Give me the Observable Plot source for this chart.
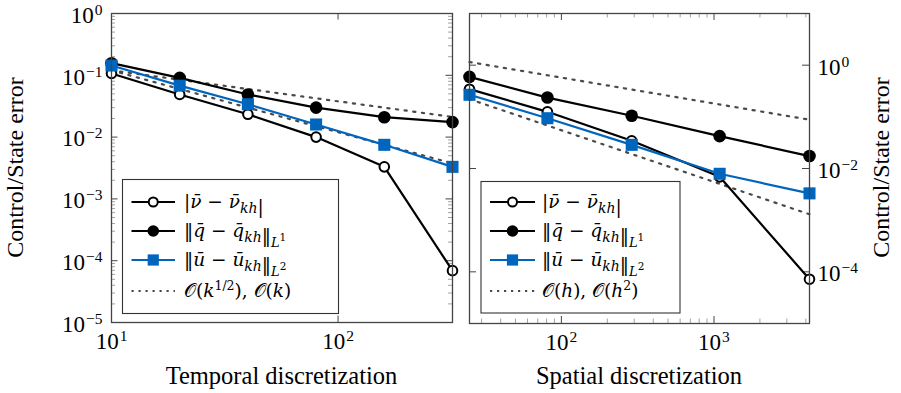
<!DOCTYPE html>
<html><head><meta charset="utf-8">
<script src="https://cdn.jsdelivr.net/npm/d3@7"></script>
<script src="https://cdn.jsdelivr.net/npm/@observablehq/plot@0.6"></script>
<style>
body{margin:0;background:#fff}
#wrap{position:relative;width:901px;height:393px;font-family:"Liberation Serif",serif}
#wrap svg{position:absolute;top:0;overflow:visible}
</style></head><body><div id="wrap"></div>
<script>
// ---- data: temporal discretization (left panel) ----
const kTemporal  = [10, 20, 40, 80, 160, 320];
const nuTemporal = [0.107, 0.049, 0.0234, 0.0100, 0.0033, 6.9e-5];
const qTemporal  = [0.157, 0.091, 0.049, 0.030, 0.021, 0.0175];
const uTemporal  = [0.144, 0.068, 0.034, 0.016, 0.0075, 0.0033];
const refTemporalX    = [10, 320];
const refTemporalHalf = [0.12, 0.0212];   // O(k^{1/2})
const refTemporalOne  = [0.12, 0.00375];  // O(k)

// ---- data: spatial discretization (right panel) ----
const nSpatial  = [25, 81, 289, 1089, 4225];
const nuSpatial = [0.343, 0.125, 0.0344, 0.0069, 7.2e-5];
const qSpatial  = [0.594, 0.236, 0.105, 0.0423, 0.0174];
const uSpatial  = [0.267, 0.094, 0.0287, 0.0079, 0.0033];
const refSpatialX  = [25, 4225];
const refSpatialH  = [1.15, 0.088];   // O(h)
const refSpatialH2 = [0.22, 0.0013];  // O(h^2)

// ---- ticks ----
const xTicksTemporal = [10, 100];
const yTicksTemporal = [1e-5, 1e-4, 1e-3, 1e-2, 1e-1, 1];
const xTicksSpatial  = [100, 1000];
const yTicksSpatial  = [1e-4, 1e-2, 1];
const minorMantissas = [2, 3, 4, 5, 6, 7, 8, 9];

// ---- text ----
const xTitleTemporal = "Temporal discretization";
const xTitleSpatial  = "Spatial discretization";
const yTitle = "Control/State error";
const I = s => `<tspan font-style="italic">${s}</tspan>`;
const SUB = s => `<tspan font-style="italic" font-size="14px" dy="4.5">${s}</tspan><tspan dy="-4.5"></tspan>`;
const NORMSUB = n => `<tspan font-style="italic" font-size="13px" dy="5">L</tspan><tspan font-size="10.5px" dy="-5.5">${n}</tspan>`;
const legendTemporal = [
  `|${I("ν̄")} − ${I("ν̄")}${SUB("kh")}|`,
  `‖${I("q̄")} − ${I("q̄")}${SUB("kh")}‖${NORMSUB(1)}`,
  `‖${I("ū")} − ${I("ū")}${SUB("kh")}‖${NORMSUB(2)}`,
  `𝒪(${I("k")}<tspan font-size="12.5px" dy="-7">1/2</tspan><tspan dy="7">), 𝒪(</tspan>${I("k")})`
];
const legendSpatial = [
  legendTemporal[0], legendTemporal[1], legendTemporal[2],
  `𝒪(${I("h")}), 𝒪(${I("h")}<tspan font-size="12.5px" dy="-7">2</tspan><tspan dy="7">)</tspan>`
];

const BLUE = "#0065bd", FRAME = "#444", MINOR = "#999", REFC = "#4a4a4a";
const LW = 2.2;

function table(xs, ys) { return xs.map((x, i) => ({x, y: ys[i]})); }
function minorTicks(lo, hi) {
  const out = [];
  for (let e = Math.floor(Math.log10(lo)); e <= Math.ceil(Math.log10(hi)); e++)
    for (const m of minorMantissas) { const v = m * 10 ** e; if (v > lo && v < hi) out.push(v); }
  return out;
}
const fmt = d => "10^" + Math.round(Math.log10(d));

function seriesMarks(xs, nu, q, u) {
  return [
    Plot.line(table(xs, nu), {x: "x", y: "y", stroke: "#000", strokeWidth: LW}),
    Plot.dot(table(xs, nu), {x: "x", y: "y", r: 4.8, stroke: "#000", strokeWidth: 2, fill: "#fff"}),
    Plot.line(table(xs, q), {x: "x", y: "y", stroke: "#000", strokeWidth: LW}),
    Plot.dot(table(xs, q), {x: "x", y: "y", r: 6.3, fill: "#000", stroke: null}),
    Plot.line(table(xs, u), {x: "x", y: "y", stroke: BLUE, strokeWidth: LW}),
    Plot.dot(table(xs, u), {x: "x", y: "y", r: 6.8, symbol: "square", fill: BLUE, stroke: null})
  ];
}
function refMarks(xs, a, b) {
  const o = {x: "x", y: "y", stroke: REFC, strokeWidth: 2.2, strokeDasharray: "2.2 6.5"};
  return [Plot.line(table(xs, a), o), Plot.line(table(xs, b), o)];
}

function supTicks(svg) {
  d3.select(svg).selectAll("g[aria-label$='tick label'] text").each(function () {
    const m = this.textContent.match(/^10\^(.+)$/);
    if (!m) return;
    this.textContent = "";
    const s = d3.select(this);
    s.append("tspan").text("10");
    s.append("tspan").attr("dx", "1").attr("dy", "-8").style("font-size", "15.5px").text(m[1].replace("-", "−"));
  });
}

function addLegend(svg, {bx, by, bw, bh, rows, l1, l2, tx, labels}) {
  const g = d3.select(svg).append("g");
  g.append("rect").attr("x", bx).attr("y", by).attr("width", bw).attr("height", bh)
    .attr("fill", "#fff").attr("stroke", "#333").attr("stroke-width", 1.1);
  const mx = (l1 + l2) / 2;
  rows.forEach((y, i) => {
    const stroke = i === 2 ? BLUE : i === 3 ? REFC : "#000";
    const line = g.append("line").attr("x1", l1).attr("x2", l2).attr("y1", y).attr("y2", y)
      .attr("stroke", stroke).attr("stroke-width", LW);
    if (i === 3) line.attr("stroke-dasharray", "2.2 4.8");
    if (i === 0) g.append("circle").attr("cx", mx).attr("cy", y).attr("r", 4.5).attr("fill", "#fff").attr("stroke", "#000").attr("stroke-width", 2);
    if (i === 1) g.append("circle").attr("cx", mx).attr("cy", y).attr("r", 5.8).attr("fill", "#000");
    if (i === 2) g.append("rect").attr("x", mx - 5.6).attr("y", y - 5.6).attr("width", 11.2).attr("height", 11.2).attr("fill", BLUE);
    g.append("text").attr("x", tx).attr("y", y + 6).attr("text-anchor", "start")
      .style("font-family", "DejaVu Serif").style("font-size", "18.5px").html(labels[i]);
  });
}

function addTitles(svg, {xt, xx, yx, yy}) {
  const s = d3.select(svg);
  s.append("text").attr("x", xx).attr("y", 384).attr("text-anchor", "middle").style("font-size", "24.5px").text(xt);
  s.append("text").attr("transform", `translate(${yx},${yy}) rotate(-90)`).attr("text-anchor", "middle").style("font-size", "24px").text(yTitle);
}

const wrap = document.getElementById("wrap");
const style = {fontFamily: "Liberation Serif", fontSize: "23px", background: "transparent", color: "#000"};

// ---------- left panel ----------
{
  const W = 460, H = 393, mL = 111, mR = 8, mT = 13, mB = 71;
  const fw = W - mL - mR, fh = H - mT - mB;
  const yMinor = minorTicks(1e-5, 1);
  const svg = Plot.plot({
    width: W, height: H, marginLeft: mL, marginRight: mR, marginTop: mT, marginBottom: mB,
    style,
    x: {type: "log", domain: [10, 320]},
    y: {type: "log", domain: [1e-5, 1]},
    marks: [
      Plot.tickY(yMinor, {y: d => d, insetRight: fw - 4, stroke: MINOR, strokeWidth: 0.9}),
      Plot.tickY(yMinor, {y: d => d, insetLeft: fw - 4, stroke: MINOR, strokeWidth: 0.9}),
      Plot.tickY(yTicksTemporal, {y: d => d, insetRight: fw - 6.5, stroke: FRAME}),
      Plot.tickY(yTicksTemporal, {y: d => d, insetLeft: fw - 6.5, stroke: FRAME}),
      Plot.tickX(xTicksTemporal, {x: d => d, insetTop: fh - 6.5, stroke: FRAME}),
      Plot.tickX(xTicksTemporal, {x: d => d, insetBottom: fh - 6.5, stroke: FRAME}),
      Plot.axisY(yTicksTemporal, {anchor: "left", tickSize: 0, tickPadding: 9, dy: 2, tickFormat: fmt, label: null}),
      Plot.axisX(xTicksTemporal, {anchor: "bottom", tickSize: 0, tickPadding: 10, tickFormat: fmt, label: null}),
      ...refMarks(refTemporalX, refTemporalHalf, refTemporalOne),
      ...seriesMarks(kTemporal, nuTemporal, qTemporal, uTemporal),
      Plot.frame({stroke: FRAME, strokeWidth: 1.3})
    ]
  });
  svg.style.left = "0px";
  wrap.appendChild(svg);
  supTicks(svg);
  addLegend(svg, {bx: 122.5, by: 179.5, bw: 216, bh: 134, rows: [202, 231, 260, 291], l1: 131.5, l2: 175, tx: 184, labels: legendTemporal});
  addTitles(svg, {xt: xTitleTemporal, xx: 281.5, yx: 23, yy: 167.5});
}

// ---------- right panel ----------
{
  const W = 446, H = 393, mL = 14, mR = 92, mT = 13, mB = 70;
  const fw = W - mL - mR, fh = H - mT - mB;
  const xMinor = minorTicks(25, 4225);
  const svg = Plot.plot({
    width: W, height: H, marginLeft: mL, marginRight: mR, marginTop: mT, marginBottom: mB,
    style,
    x: {type: "log", domain: [25, 4225]},
    y: {type: "log", domain: [1e-5, 10]},
    marks: [
      Plot.tickX(xMinor, {x: d => d, insetTop: fh - 4.5, stroke: MINOR, strokeWidth: 0.9}),
      Plot.tickX(xMinor, {x: d => d, insetBottom: fh - 4.5, stroke: MINOR, strokeWidth: 0.9}),
      Plot.tickX(xTicksSpatial, {x: d => d, insetTop: fh - 7, stroke: FRAME}),
      Plot.tickX(xTicksSpatial, {x: d => d, insetBottom: fh - 7, stroke: FRAME}),
      Plot.tickY(yTicksSpatial, {y: d => d, insetRight: fw - 7, stroke: FRAME}),
      Plot.tickY(yTicksSpatial, {y: d => d, insetLeft: fw - 7, stroke: FRAME}),
      Plot.axisY(yTicksSpatial, {anchor: "right", tickSize: 0, tickPadding: 8, dy: 2, tickFormat: fmt, label: null}),
      Plot.axisX(xTicksSpatial, {anchor: "bottom", tickSize: 0, tickPadding: 10, tickFormat: fmt, label: null}),
      ...refMarks(refSpatialX, refSpatialH, refSpatialH2),
      ...seriesMarks(nSpatial, nuSpatial, qSpatial, uSpatial),
      Plot.frame({stroke: FRAME, strokeWidth: 1.3})
    ]
  });
  svg.style.left = "455px";
  wrap.appendChild(svg);
  supTicks(svg);
  addLegend(svg, {bx: 26, by: 181.5, bw: 199, bh: 131.5, rows: [202, 231, 260, 291], l1: 35, l2: 80, tx: 87, labels: legendSpatial});
  addTitles(svg, {xt: xTitleSpatial, xx: 184, yx: 434, yy: 167.5});
}
</script>
</body></html>
